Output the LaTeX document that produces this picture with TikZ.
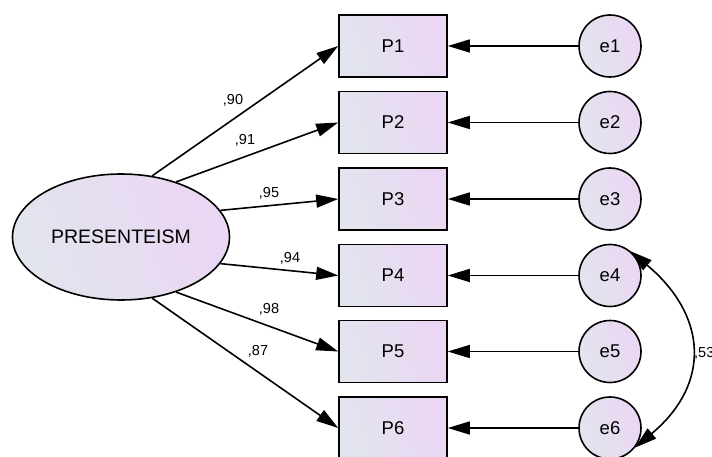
\documentclass[tikz,border=0pt]{standalone}
\usepackage{fontspec}
\setmainfont{Liberation Sans}
\usetikzlibrary{shapes.geometric,arrows.meta}
\definecolor{fillA}{RGB}{226,229,238}
\definecolor{fillB}{RGB}{235,214,243}
\tikzset{
  shaded/.style={draw=black, line width=1.6pt, left color=fillA, right color=fillB, shading angle=110},
  latent/.style={shaded, ellipse, minimum width=217pt, minimum height=126pt, inner sep=0pt,
    font=\fontsize{19.5}{21}\selectfont},
  observed/.style={shaded, rectangle, minimum width=108pt, minimum height=62pt, inner sep=0pt,
    font=\fontsize{18.5}{20}\selectfont},
  errvar/.style={shaded, circle, minimum size=62pt, inner sep=0pt,
    font=\fontsize{18.5}{20}\selectfont},
  path/.style={line width=1.6pt, -{Triangle[length=22pt,width=13pt]}},
  cov/.style={line width=1.6pt, {Triangle[length=22pt,width=13pt]}-{Triangle[length=22pt,width=13pt]}},
  coef/.style={font=\fontsize{14.5}{16}\selectfont, inner sep=0pt}
}
\begin{document}
\begin{tikzpicture}[x=1pt, y=-1pt]
\useasboundingbox (0,0) rectangle (712,457);

% latent factor
\node[latent] (pres) at (121,237) {PRESENTEISM};

% indicators and their error terms
\foreach \i/\yy in {1/46, 2/122.5, 3/199, 4/275.5, 5/351.5, 6/428} {
  \node[observed] (P\i) at (393,\yy) {P\i};
  \node[errvar] (e\i) at (610,\yy) {e\i};
  \draw[path] (e\i) -- (P\i);
}

% factor loadings
\draw[path] (pres.63)  -- (P1.west);
\draw[path] (pres.45)  -- (P2.west);
\draw[path] (pres.15)  -- (P3.west);
\draw[path] (pres.-15) -- (P4.west);
\draw[path] (pres.-45) -- (P5.west);
\draw[path] (pres.-63) -- (P6.west);

\node[coef] (c1) at (233,100) {,90};
\node[coef] (c2) at (245,140) {,91};
\node[coef] (c3) at (269,193) {,95};
\node[coef] (c4) at (290,258) {,94};
\node[coef] (c5) at (269,309) {,98};
\node[coef] (c6) at (258,351) {,87};

% error covariance
\draw[cov] (e4.50) to[out=-40, in=40, looseness=1.3] (e6.-38);
\node[coef, anchor=west] (c7) at (694,353) {,53};
\end{tikzpicture}
\end{document}
